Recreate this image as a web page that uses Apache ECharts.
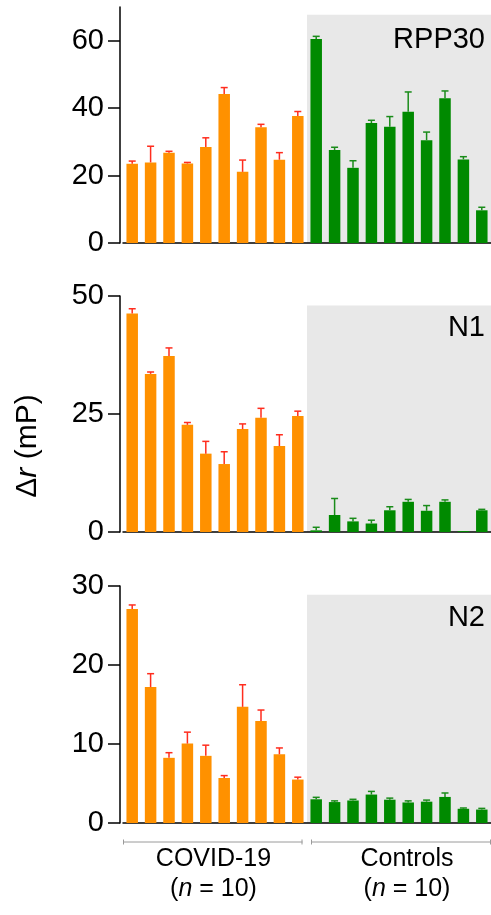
<!DOCTYPE html>
<html>
<head>
<meta charset="utf-8">
<script src="https://cdn.jsdelivr.net/npm/echarts@6/dist/echarts.min.js"></script>
<style>
  html, body { margin: 0; padding: 0; background: #fff; }
  #chart { width: 491px; height: 915px; }
</style>
</head>
<body>
<div id="chart"></div>
<script>
// sample slots: 10 COVID-19 patients then 10 controls
const samples = ['1','2','3','4','5','6','7','8','9','10','11','12','13','14','15','16','17','18','19','20'];

// RPP30
const rppCovid = [23.5, 23.9, 26.8, 23.6, 28.5, 44.2, 21.1, 34.3, 24.7, 37.7];
const rppCovidErr = [0.8, 4.8, 0.4, 0.3, 2.7, 1.9, 3.5, 0.9, 2.1, 1.3];
const rppCtrl = [60.5, 27.6, 22.3, 35.6, 34.5, 38.9, 30.5, 42.9, 24.8, 9.7];
const rppCtrlErr = [0.8, 0.8, 2.1, 0.8, 3.0, 5.9, 2.4, 2.2, 0.8, 0.9];

// N1
const n1Covid = [46.3, 33.5, 37.3, 22.7, 16.6, 14.4, 21.8, 24.2, 18.2, 24.6];
const n1CovidErr = [1.0, 0.4, 1.7, 0.5, 2.6, 2.6, 1.1, 2.0, 2.4, 1.0];
const n1Ctrl = [0.35, 3.6, 2.25, 1.8, 4.6, 6.4, 4.5, 6.4, 0.2, 4.6];
const n1CtrlErr = [0.65, 3.5, 0.65, 0.7, 0.75, 0.5, 1.1, 0.4, 0, 0.2];

// N2
const n2Covid = [27.1, 17.2, 8.25, 10.05, 8.5, 5.7, 14.7, 12.9, 8.7, 5.5];
const n2CovidErr = [0.5, 1.7, 0.65, 1.45, 1.35, 0.3, 2.8, 1.4, 0.8, 0.3];
const n2Ctrl = [3.0, 2.65, 2.85, 3.6, 2.95, 2.6, 2.7, 3.3, 1.8, 1.7];
const n2CtrlErr = [0.25, 0.15, 0.15, 0.4, 0.2, 0.2, 0.2, 0.5, 0.1, 0.15];

// axis ticks per panel
const rppTicks = [0, 20, 40, 60];
const n1Ticks = [0, 25, 50];
const n2Ticks = [0, 10, 20, 30];

const panelNames = ['RPP30', 'N1', 'N2'];
const groupNames = ['COVID-19', 'Controls'];

const ORANGE = '#ff9100';
const RED = '#ff2d1e';
const GREEN = '#008a00';
const GREEN_ERR = '#1a8c1a';
const GREY = '#e8e8e8';

const panels = [
  { covid: rppCovid, covidErr: rppCovidErr, ctrl: rppCtrl, ctrlErr: rppCtrlErr, ticks: rppTicks, max: 70, bgTop: 67.7, top: 7, height: 236 },
  { covid: n1Covid, covidErr: n1CovidErr, ctrl: n1Ctrl, ctrlErr: n1CtrlErr, ticks: n1Ticks, max: 50, bgTop: 48, top: 296, height: 236 },
  { covid: n2Covid, covidErr: n2CovidErr, ctrl: n2Ctrl, ctrlErr: n2CtrlErr, ticks: n2Ticks, max: 30, bgTop: 28.9, top: 586, height: 237 }
];

const font = 'Liberation Sans, Arial, sans-serif';
const chart = echarts.init(document.getElementById('chart'));

const grids = [], xAxes = [], yAxes = [], series = [];

panels.forEach(function (p, k) {
  grids.push({ left: 123, right: 0, top: p.top, height: p.height });
  xAxes.push({
    gridIndex: k, type: 'category', data: samples,
    axisLine: { lineStyle: { color: '#000', width: 1.5 } },
    axisTick: { show: false }, axisLabel: { show: false }
  });
  yAxes.push({
    gridIndex: k, type: 'value', min: 0, max: p.max, offset: 3,
    axisLine: { show: true, lineStyle: { color: '#000', width: 1.5 } },
    axisTick: { show: true, length: 12, lineStyle: { color: '#000', width: 1.5 }, customValues: p.ticks },
    axisLabel: { color: '#000', fontSize: 29, fontFamily: font, margin: 16, customValues: p.ticks },
    splitLine: { show: false }
  });

  // grey background behind the controls half
  series.push({
    type: 'custom', xAxisIndex: k, yAxisIndex: k, z: 0, silent: true,
    data: [[10, p.bgTop]],
    renderItem: function (params, api) {
      const pt = api.coord([api.value(0), api.value(1)]);
      const band = api.size([1, 0])[0];
      const cs = params.coordSys;
      const x0 = pt[0] - band / 2;
      return {
        type: 'rect',
        shape: { x: x0, y: pt[1], width: cs.x + cs.width - x0, height: cs.y + cs.height - pt[1] },
        style: { fill: GREY }
      };
    }
  });

  const values = p.covid.concat(p.ctrl);
  const errs = p.covidErr.concat(p.ctrlErr);

  series.push({
    type: 'bar', xAxisIndex: k, yAxisIndex: k, z: 2, barWidth: 11.5,
    data: values.map(function (v, i) {
      return { value: v, itemStyle: { color: i < 10 ? ORANGE : GREEN } };
    })
  });

  // upper error whiskers
  series.push({
    type: 'custom', xAxisIndex: k, yAxisIndex: k, z: 3, silent: true,
    data: values.map(function (v, i) { return [i, v, v + errs[i]]; }),
    renderItem: function (params, api) {
      const i = api.value(0);
      const lo = api.coord([i, api.value(1)]);
      const hi = api.coord([i, api.value(2)]);
      if (lo[1] - hi[1] < 0.5) return null;
      const c = i < 10 ? RED : GREEN_ERR;
      const cap = 3.5;
      return {
        type: 'group',
        children: [
          { type: 'line', shape: { x1: lo[0], y1: lo[1], x2: hi[0], y2: hi[1] }, style: { stroke: c, lineWidth: 1.5 } },
          { type: 'line', shape: { x1: hi[0] - cap, y1: hi[1], x2: hi[0] + cap, y2: hi[1] }, style: { stroke: c, lineWidth: 1.5 } }
        ]
      };
    }
  });
});

const labelTops = [31, 319, 609];
const graphics = panelNames.map(function (name, k) {
  return {
    type: 'text', right: 6, top: labelTops[k] - 6, z: 10,
    style: { text: name, fill: '#000', font: '29px ' + font }
  };
});

graphics.push({
  type: 'text', x: 28, y: 446, rotation: Math.PI / 2, z: 10,
  style: {
    text: '{n|Δ}{i|r}{n| (mP)}', align: 'center', verticalAlign: 'middle',
    rich: {
      n: { fontSize: 30, fontFamily: font, fill: '#000' },
      i: { fontSize: 30, fontFamily: font, fontStyle: 'italic', fill: '#000' }
    }
  }
});

// group brackets under the bottom panel
const brackets = [[123.5, 302.5], [311.5, 491]];
brackets.forEach(function (b) {
  graphics.push({ type: 'line', shape: { x1: b[0], y1: 842, x2: b[1], y2: 842 }, style: { stroke: '#9a9a9a', lineWidth: 1 } });
  graphics.push({ type: 'line', shape: { x1: b[0], y1: 839.5, x2: b[0], y2: 844.5 }, style: { stroke: '#9a9a9a', lineWidth: 1 } });
  graphics.push({ type: 'line', shape: { x1: b[1] - 0.5, y1: 839.5, x2: b[1] - 0.5, y2: 844.5 }, style: { stroke: '#9a9a9a', lineWidth: 1 } });
});
const groupCenters = [213.5, 407];
groupNames.forEach(function (g, k) {
  graphics.push({
    type: 'text', x: groupCenters[k], y: 859, z: 10,
    style: { text: g, align: 'center', verticalAlign: 'middle', fontSize: 25, fontFamily: font, fill: '#000' }
  });
  graphics.push({
    type: 'text', x: groupCenters[k], y: 889, z: 10,
    style: {
      text: '{n|(}{i|n}{n| = 10)}', align: 'center', verticalAlign: 'middle',
      rich: {
        n: { fontSize: 25, fontFamily: font, fill: '#000' },
        i: { fontSize: 25, fontFamily: font, fontStyle: 'italic', fill: '#000' }
      }
    }
  });
});

chart.setOption({
  animation: false,
  grid: grids,
  xAxis: xAxes,
  yAxis: yAxes,
  series: series,
  graphic: graphics
});
</script>
</body>
</html>
